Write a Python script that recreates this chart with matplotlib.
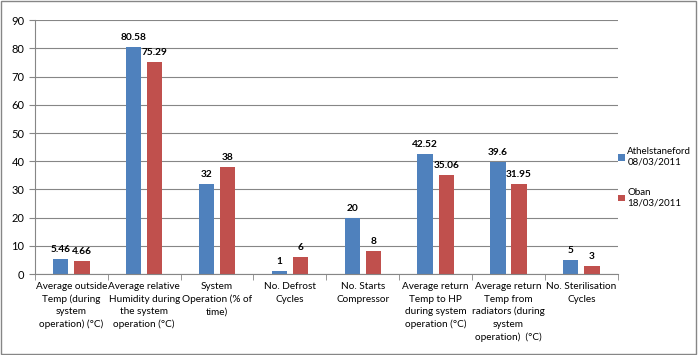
import matplotlib.pyplot as plt
import numpy as np

plt.rcParams['font.family'] = ['Lato', 'DejaVu Sans']

categories = ['Average outside\nTemp (during\nsystem\noperation) (°C)',
              'Average relative\nHumidity during\nthe system\noperation (°C)',
              'System\nOperation (% of\ntime)',
              'No. Defrost\nCycles',
              'No. Starts\nCompressor',
              'Average return\nTemp to HP\nduring system\noperation (°C)',
              'Average return\nTemp from\nradiators (during\nsystem\noperation)  (°C)',
              'No. Sterilisation\nCycles']
athel = [5.46, 80.58, 32, 1, 20, 42.52, 39.6, 5]
oban = [4.66, 75.29, 38, 6, 8, 35.06, 31.95, 3]
athel_lbl = ['5.46', '80.58', '32', '1', '20', '42.52', '39.6', '5']
oban_lbl = ['4.66', '75.29', '38', '6', '8', '35.06', '31.95', '3']

fig = plt.figure(figsize=(6.98, 3.55), dpi=100)
ax = fig.add_axes([0.05, 0.228, 0.835, 0.715])

x = np.arange(len(categories))
w = 0.21
b1 = ax.bar(x - 0.145, athel, w, color='#4f81bd', label='Athelstaneford\n08/03/2011')
b2 = ax.bar(x + 0.145, oban, w, color='#c0504d', label='Oban\n18/03/2011')

for bars, lbls in [(b1, athel_lbl), (b2, oban_lbl)]:
    for b, t in zip(bars, lbls):
        ax.text(b.get_x() + b.get_width() / 2, b.get_height() + 1.8, t,
                ha='center', va='bottom', fontsize=7.3, fontweight='bold')

ax.set_ylim(0, 90)
ax.set_yticks(range(0, 91, 10))
ax.set_xlim(-0.5, len(categories) - 0.5)
ax.set_xticks(x)
ax.set_xticklabels(categories, fontsize=7.2, linespacing=1.45)
ax.tick_params(axis='y', labelsize=8, length=4, color='#868686')
ax.tick_params(axis='x', length=0, pad=6)
ax.set_xticks(np.arange(-0.5, len(categories)), minor=True)
ax.tick_params(axis='x', which='minor', length=4, color='#868686')
ax.yaxis.grid(True, color='#868686', linewidth=0.8)
ax.set_axisbelow(True)
for s in ['top', 'right']:
    ax.spines[s].set_visible(False)
ax.spines['left'].set_color('#868686')
ax.spines['bottom'].set_color('#868686')

fig.legend(loc='center left', bbox_to_anchor=(0.885, 0.5), frameon=False,
           fontsize=7, handlelength=0.7, handleheight=0.7, labelspacing=2.2,
           handletextpad=0.3, borderpad=0, borderaxespad=0)

fig.patches.append(plt.Rectangle((0.002, 0.003), 0.995, 0.993, transform=fig.transFigure,
                                 fill=False, edgecolor='#868686', linewidth=1))

fig.savefig('out.png', dpi=100)
